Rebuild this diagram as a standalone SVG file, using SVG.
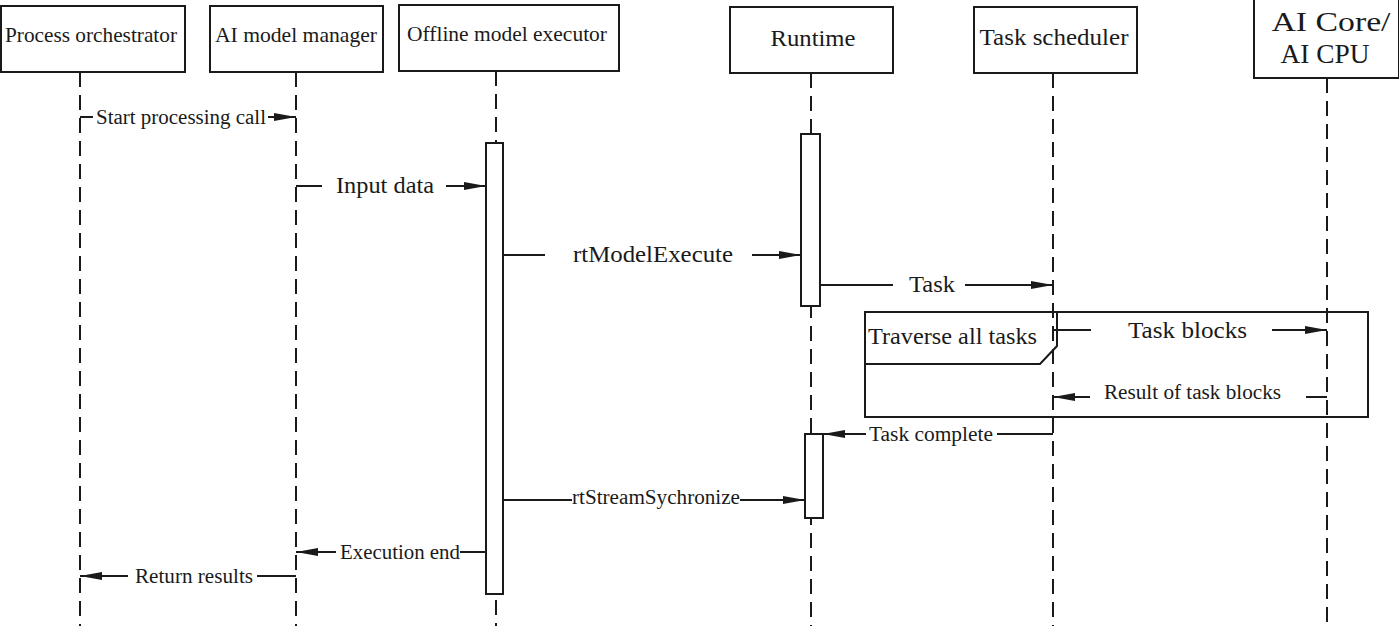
<svg xmlns="http://www.w3.org/2000/svg" width="1399" height="626" viewBox="0 0 1399 626">
<style>
.box{fill:#fff;stroke:#1a1a1a;stroke-width:2}
.life{stroke:#1a1a1a;stroke-width:2;stroke-dasharray:15 8;fill:none}
.act{fill:#fff;stroke:#1a1a1a;stroke-width:2}
.msg{stroke:#1a1a1a;stroke-width:2;fill:none}
.t{font-family:"Liberation Serif","Times New Roman",serif;fill:#1a1a1a}
.h{font-size:22px}
.m{font-size:24px}
.s{font-size:20px}
</style>
<defs>
<marker id="ah" viewBox="0 0 22 8" refX="22" refY="4" markerWidth="22" markerHeight="8" markerUnits="userSpaceOnUse" orient="auto">
<path d="M0,0 L22,4 L0,8 Z" fill="#1a1a1a"/>
</marker>
</defs>
<g id="lifelines">
<line class="life" x1="80" y1="72" x2="80" y2="626"/>
<line class="life" x1="296" y1="72" x2="296" y2="626"/>
<line class="life" x1="496" y1="71" x2="496" y2="626"/>
<line class="life" x1="811" y1="73" x2="811" y2="626"/>
<line class="life" x1="1053" y1="73" x2="1053" y2="626"/>
<line class="life" x1="1327" y1="78" x2="1327" y2="626"/>
</g>
<g id="node-orchestrator"><rect class="box" x="1" y="6" width="184" height="66"/><text class="t h" x="91" y="42" text-anchor="middle" textLength="172" lengthAdjust="spacingAndGlyphs">Process orchestrator</text></g>
<g id="node-manager"><rect class="box" x="210" y="6" width="173" height="66"/><text class="t h" x="296" y="42" text-anchor="middle" textLength="162" lengthAdjust="spacingAndGlyphs">AI model manager</text></g>
<g id="node-executor"><rect class="box" x="399" y="5" width="220" height="66"/><text class="t h" x="507" y="41" text-anchor="middle" textLength="200" lengthAdjust="spacingAndGlyphs">Offline model executor</text></g>
<g id="node-runtime"><rect class="box" x="730" y="7" width="163" height="66"/><text class="t m" x="813" y="46" text-anchor="middle" textLength="85" lengthAdjust="spacingAndGlyphs">Runtime</text></g>
<g id="node-scheduler"><rect class="box" x="974" y="7" width="163" height="66"/><text class="t m" x="1054" y="45" text-anchor="middle" textLength="149" lengthAdjust="spacingAndGlyphs">Task scheduler</text></g>
<g id="node-aicore"><rect class="box" x="1254" y="-1" width="145" height="79"/><text class="t" font-size="27" x="1331" y="31" text-anchor="middle" textLength="119" lengthAdjust="spacingAndGlyphs">AI Core/</text><text class="t" font-size="27" x="1325" y="63" text-anchor="middle" textLength="89" lengthAdjust="spacingAndGlyphs">AI CPU</text></g>
<g id="activations">
<rect class="act" x="486" y="143" width="17" height="451"/>
<rect class="act" x="801" y="134" width="19" height="172"/>
<rect class="act" x="805" y="434" width="18" height="84"/>
</g>
<g id="loop-frame">
<rect x="865" y="312" width="503" height="105" fill="none" stroke="#1a1a1a" stroke-width="2"/>
<path d="M865,364 L1040,364 L1057,346 L1057,312" fill="none" stroke="#1a1a1a" stroke-width="2"/>
<text class="t m" x="868" y="344" textLength="169" lengthAdjust="spacingAndGlyphs">Traverse all tasks</text>
</g>
<g id="connectors">
<line class="msg" x1="80" y1="117" x2="93" y2="117"/>
<line class="msg" x1="268" y1="117" x2="296" y2="117" marker-end="url(#ah)"/>
<text class="t s" x="96" y="124" textLength="170" lengthAdjust="spacingAndGlyphs">Start processing call</text>

<line class="msg" x1="296" y1="186" x2="322" y2="186"/>
<line class="msg" x1="446" y1="186" x2="486" y2="186" marker-end="url(#ah)"/>
<text class="t m" x="336" y="193" textLength="98" lengthAdjust="spacingAndGlyphs">Input data</text>

<line class="msg" x1="503" y1="255" x2="545" y2="255"/>
<line class="msg" x1="752" y1="255" x2="801" y2="255" marker-end="url(#ah)"/>
<text class="t m" x="573" y="262" textLength="160" lengthAdjust="spacingAndGlyphs">rtModelExecute</text>

<line class="msg" x1="820" y1="285" x2="893" y2="285"/>
<line class="msg" x1="965" y1="285" x2="1053" y2="285" marker-end="url(#ah)"/>
<text class="t m" x="909" y="292" textLength="46" lengthAdjust="spacingAndGlyphs">Task</text>

<line class="msg" x1="1053" y1="330" x2="1091" y2="330"/>
<line class="msg" x1="1272" y1="330" x2="1327" y2="330" marker-end="url(#ah)"/>
<text class="t m" x="1128" y="338" textLength="119" lengthAdjust="spacingAndGlyphs">Task blocks</text>

<line class="msg" x1="1327" y1="397" x2="1306" y2="397"/>
<line class="msg" x1="1090" y1="397" x2="1053" y2="397" marker-end="url(#ah)"/>
<text class="t s" x="1104" y="399" textLength="177" lengthAdjust="spacingAndGlyphs">Result of task blocks</text>

<line class="msg" x1="1053" y1="434" x2="997" y2="434"/>
<line class="msg" x1="866" y1="434" x2="823" y2="434" marker-end="url(#ah)"/>
<text class="t s" x="869" y="441" textLength="124" lengthAdjust="spacingAndGlyphs">Task complete</text>

<line class="msg" x1="503" y1="500" x2="572" y2="500"/>
<line class="msg" x1="740" y1="500" x2="805" y2="500" marker-end="url(#ah)"/>
<text class="t s" x="572" y="504" textLength="168" lengthAdjust="spacingAndGlyphs">rtStreamSychronize</text>

<line class="msg" x1="486" y1="552" x2="460" y2="552"/>
<line class="msg" x1="336" y1="552" x2="296" y2="552" marker-end="url(#ah)"/>
<text class="t s" x="340" y="559" textLength="120" lengthAdjust="spacingAndGlyphs">Execution end</text>

<line class="msg" x1="296" y1="576" x2="257" y2="576"/>
<line class="msg" x1="128" y1="576" x2="80" y2="576" marker-end="url(#ah)"/>
<text class="t s" x="135" y="583" textLength="118" lengthAdjust="spacingAndGlyphs">Return results</text>
</g>
</svg>
